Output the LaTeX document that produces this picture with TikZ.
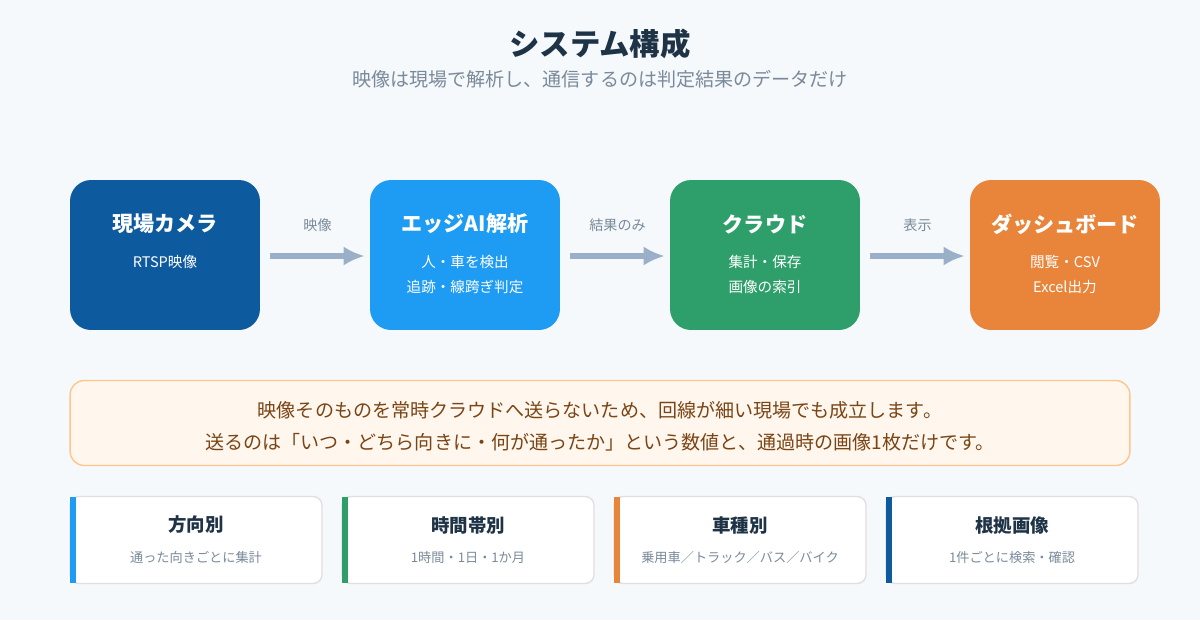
\documentclass[tikz,border=0pt]{standalone}
\usepackage{fontspec}
\setmainfont{Noto Sans CJK JP}
\usetikzlibrary{positioning}
\definecolor{bgc}{HTML}{F5F9FC}
\definecolor{navy}{HTML}{0D5A9E}
\definecolor{sky}{HTML}{1E9BF2}
\definecolor{grn}{HTML}{2E9E6A}
\definecolor{org}{HTML}{E8853A}
\definecolor{arr}{HTML}{9AB0C8}
\definecolor{ink}{HTML}{1F3347}
\definecolor{sub}{HTML}{7A8A9A}
\definecolor{notec}{HTML}{7A4515}
\tikzset{
  stage/.style={rounded corners=12pt, minimum width=3.8cm, minimum height=3cm, inner sep=0pt},
  flow/.style={-{Latex[length=12pt,width=11pt]}, line width=3pt, draw=arr},
  card/.style={rounded corners=5pt, draw=black!12, line width=0.8pt, fill=white, minimum width=5.04cm, minimum height=1.74cm}
}
\usetikzlibrary{arrows.meta}
\begin{document}
\begin{tikzpicture}[x=0.02cm,y=-0.02cm]
\fill[bgc] (0,0) rectangle (1200,620);
\useasboundingbox (0,0) rectangle (1200,620);
\node[font=\bfseries\fontsize{17.3}{20}\selectfont, text=ink] (title) at (600,44) {システム構成};
\node[font=\fontsize{10.85}{13}\selectfont, text=sub] (subt) at (600,79) {映像は現場で解析し、通信するのは判定結果のデータだけ};

% top row
\foreach \n/\x/\c/\t/\a/\b in {cam/165/navy/現場カメラ/RTSP映像/,edge/465/sky/エッジAI解析/人・車を検出/追跡・線跨ぎ判定,cloud/765/grn/クラウド/集計・保存/画像の索引,dash/1065/org/ダッシュボード/閲覧・CSV/Excel出力}{
  \node[stage, fill=\c] (\n) at (\x,255) {};
  \node[text=white, font=\bfseries\fontsize{12}{14}\selectfont] at (\x,224) {\t};
  \node[text=white, font=\fontsize{8.3}{10}\selectfont] at (\x,262) {\a};
  \node[text=white, font=\fontsize{8.3}{10}\selectfont] at (\x,287) {\b};
}
\foreach \p/\q/\l in {cam/edge/映像,edge/cloud/結果のみ,cloud/dash/表示}{
  \coordinate (s) at ([xshift=10*0.02cm, yshift=-1*0.02cm]\p.east);
  \coordinate (e) at ([xshift=-5*0.02cm, yshift=-1*0.02cm]\q.west);
  \draw[flow] (s) -- (e) node[midway, above=9pt, text=sub, font=\fontsize{8}{10}\selectfont] {\l};
}

% note
\node[rounded corners=8pt, draw=orange!45, line width=0.8pt, fill=orange!7, minimum width=21.2cm, minimum height=1.7cm] (note) at (600,423) {};
\node[text=notec, font=\fontsize{10.85}{12}\selectfont] at (600,410) {映像そのものを常時クラウドへ送らないため、回線が細い現場でも成立します。};
\node[text=notec, font=\fontsize{10.85}{12}\selectfont] at (600,442) {送るのは「いつ・どちら向きに・何が通ったか」という数値と、通過時の画像1枚だけです。};

% cards
\foreach \n/\x/\c/\t/\s in {dir/196/sky/方向別/通った向きごとに集計,time/468/grn/時間帯別/1時間・1日・1か月,kind/740/org/車種別/乗用車／トラック／バス／バイク,img/1012/navy/根拠画像/1件ごとに検索・確認}{
  \node[card] (\n) at (\x,540) {};
  \fill[\c] (\x-126,497) rectangle (\x-120,583);
  \node[text=ink, font=\bfseries\fontsize{10.5}{12}\selectfont] at (\x,525) {\t};
  \node[text=sub, font=\fontsize{7.5}{9}\selectfont] at (\x,557) {\s};
}
\end{tikzpicture}
\end{document}
